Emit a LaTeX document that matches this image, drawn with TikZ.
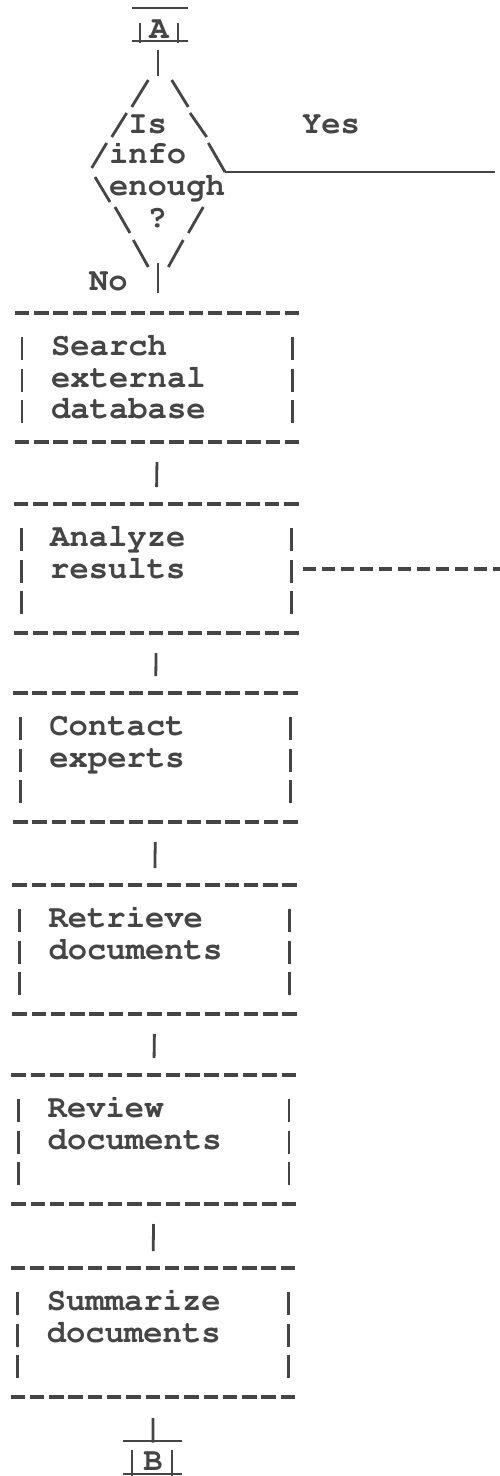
\documentclass[tikz,border=0pt]{standalone}
\usepackage[T1]{fontenc}
\usepackage{courier}
\definecolor{ink}{gray}{0.27}
\tikzset{
  hy/.style={draw=ink, line width=4pt, dash pattern=on 14.4pt off 4.9pt},
  sidebar/.style={draw=ink, line width=2.8pt, dash pattern=on 23pt off 8.5pt},
  vbar/.style={draw=ink, line width=2.8pt},
  slash/.style={draw=ink, line width=2.8pt},
  uline/.style={draw=ink, line width=2.3pt},
  boxn/.style={minimum width=289.5pt, minimum height=129pt, inner sep=0pt, outer sep=0pt},
  txt/.style={text=ink, inner sep=0pt, outer sep=0pt, anchor=base west,
    font=\fontfamily{pcr}\bfseries\fontsize{32.2}{36}\selectfont},
}
\begin{document}
\begin{tikzpicture}[x=1pt,y=-1pt]
\fill[white] (0,0) rectangle (500,1476);
\useasboundingbox (0,0) rectangle (500,1476);

% ---- connector A ----
\node[txt, anchor=base] (A) at (159,38) {A};
\draw[uline] (132,8) -- (188,8);
\draw[uline] (132,41) -- (188,41);
\draw[vbar] (140,23) -- (140,43);
\draw[vbar] (178,23) -- (178,43);

% ---- decision (ASCII diamond) ----
\coordinate (qtop) at (158,76);
\coordinate (qbot) at (158,263);
\coordinate (qr) at (225,172);
\coordinate (yesend) at (495,172);
\node[txt] (q1) at (128.3,133) {Is};
\node[txt] (q2) at (109,163) {info};
\node[txt] (q3) at (109,195) {enough};
\node[txt] (q4) at (147.6,227) {?};
\draw[slash] (148.3,80) -- (131.7,107);
\draw[slash] (126.7,113) -- (111.7,137);
\draw[slash] (106.7,143) -- (91.7,168);
\draw[slash] (95,177) -- (110,202);
\draw[slash] (115,207) -- (130,233);
\draw[slash] (133.3,240) -- (148.3,267);
\draw[slash] (171.7,80) -- (188.3,107);
\draw[slash] (190,113) -- (206.7,137);
\draw[slash] (208.3,143) -- (qr);
\draw[slash] (203.3,207) -- (188.3,233);
\draw[slash] (183.3,240) -- (168.3,267);

\draw[vbar, shorten <=12pt] (A.south -| qtop) -- (qtop);
\draw[uline] (qr) -- (yesend);
\node[txt] (yes) at (302,133) {Yes};
\node[txt] (no) at (89,290) {No};

% ---- process boxes ----
\foreach \n/\T/\d in {b1/313/0,b2/504/-0.9,b3/693/-1.7,b4/885/-2.6,b5/1075/-3.4,b6/1268/-4.3}{
  \node[boxn] (\n) at ({157.25+\d},{\T+64.5}) {};
  \draw[hy] ([xshift=2.3pt]\n.north west) -- (\n.north east);
  \draw[hy] ([xshift=2.3pt]\n.south west) -- (\n.south east);
  \draw[sidebar] ([xshift=9.5pt,yshift=-24pt]\n.north west) -- ([xshift=9.5pt,yshift=-110pt]\n.north west);
  \draw[sidebar] ([xshift=-9.6pt,yshift=-24pt]\n.north east) -- ([xshift=-9.6pt,yshift=-110pt]\n.north east);
}
\node[txt] (t1a) at (51.1,355) {Search};
\node[txt] (t1b) at (51.1,387) {external};
\node[txt] (t1c) at (51.1,418) {database};
\node[txt] (t2a) at (50.2,546) {Analyze};
\node[txt] (t2b) at (50.2,578) {results};
\node[txt] (t3a) at (49.4,735) {Contact};
\node[txt] (t3b) at (49.4,767) {experts};
\node[txt] (t4a) at (48.5,927) {Retrieve};
\node[txt] (t4b) at (48.5,959) {documents};
\node[txt] (t5a) at (47.7,1117) {Review};
\node[txt] (t5b) at (47.7,1149) {documents};
\node[txt] (t6a) at (46.8,1310) {Summarize};
\node[txt] (t6b) at (46.8,1342) {documents};

% ---- connectors ----
\draw[vbar, shorten >=20pt] (qbot) -- (qbot |- b1.north);
\foreach \a/\b in {b1/b2,b2/b3,b3/b4,b4/b5,b5/b6}
  \draw[vbar, shorten <=20pt, shorten >=17pt] (\a.south) -- (\b.north);
\coordinate (exit) at (500,568.5);
\draw[hy, dash pattern=on 13pt off 6pt, shorten <=2pt] (b2.east) -- (exit);

% ---- connector B ----
\node[txt, anchor=base] (B) at (153,1470) {B};
\draw[vbar, shorten <=21pt, shorten >=9.5pt] (b6.south) -- (B.north);
\draw[uline] (123,1441) -- (182,1441);
\draw[uline] (123,1474) -- (182,1474);
\draw[vbar] (132,1450) -- (132,1476);
\draw[vbar] (172,1450) -- (172,1476);
\end{tikzpicture}
\end{document}
